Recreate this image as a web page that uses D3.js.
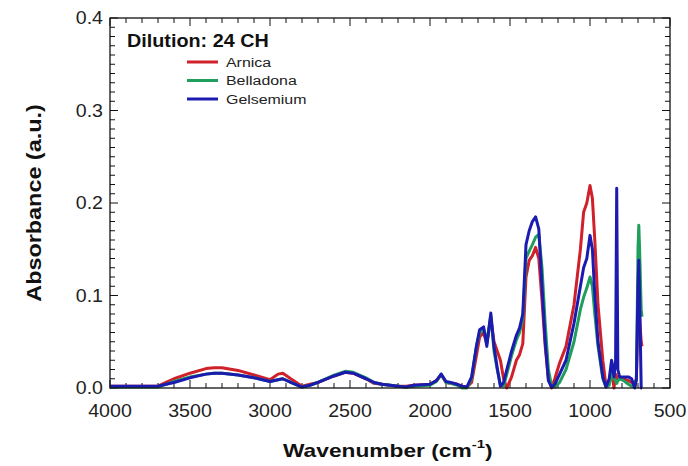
<!DOCTYPE html>
<html>
<head>
<meta charset="utf-8">
<script src="https://cdn.jsdelivr.net/npm/d3@7"></script>
<style>
  body { margin: 0; background: #fff; }
  svg { font-family: "Liberation Sans", Arial, sans-serif; }
</style>
</head>
<body>
<svg id="chart" width="688" height="466"></svg>
<script>
// wavenumber grid (cm-1), shared by the three spectra
const wavenumbers = [4000, 3800, 3700, 3650, 3600, 3500, 3400, 3350, 3300, 3200, 3100, 3000, 2950, 2920, 2870, 2800,
  2750, 2700, 2600, 2530, 2480, 2400, 2350, 2300, 2200, 2150, 2100, 2000, 1960, 1930, 1900, 1870, 1830, 1800,
  1770, 1740, 1710, 1690, 1665, 1645, 1620, 1600, 1580, 1560, 1540, 1520, 1490, 1460, 1440, 1420, 1400, 1380,
  1360, 1340, 1320, 1300, 1280, 1260, 1240, 1220, 1190, 1150, 1100, 1060, 1040, 1020, 1000, 985, 970, 950,
  920, 900, 880, 865, 850, 840, 833, 826, 815, 790, 760, 740, 720, 710, 700, 695, 690, 680, 675];

const arnica = [0.002, 0.002, 0.002, 0.006, 0.010, 0.016, 0.021, 0.022, 0.022, 0.019, 0.014, 0.009, 0.015, 0.016, 0.010, 0.002,
  0.004, 0.006, 0.013, 0.017, 0.016, 0.010, 0.005, 0.004, 0.002, 0.002, 0.003, 0.004, 0.008, 0.014, 0.006, 0.005, 0.004, 0.002,
  0.001, 0.006, 0.035, 0.055, 0.060, 0.048, 0.075, 0.050, 0.040, 0.030, 0.010, 0.000, 0.012, 0.030, 0.036, 0.048, 0.120, 0.138,
  0.143, 0.152, 0.140, 0.095, 0.045, 0.010, 0.000, 0.010, 0.027, 0.045, 0.090, 0.150, 0.190, 0.200, 0.219, 0.205, 0.160, 0.090,
  0.030, 0.002, 0.008, 0.020, 0.000, 0.015, 0.012, 0.008, 0.010, 0.010, 0.008, 0.006, 0.003, 0.010, 0.080, 0.090, 0.075, 0.050, 0.045];

const belladona = [0.001, 0.001, 0.001, 0.004, 0.007, 0.012, 0.015, 0.016, 0.016, 0.014, 0.011, 0.007, 0.009, 0.010, 0.006, 0.001,
  0.003, 0.006, 0.014, 0.018, 0.017, 0.011, 0.006, 0.004, 0.002, 0.001, 0.002, 0.003, 0.007, 0.015, 0.006, 0.005, 0.003, 0.000,
  0.000, 0.010, 0.045, 0.060, 0.064, 0.050, 0.078, 0.040, 0.020, 0.003, 0.002, 0.015, 0.035, 0.052, 0.060, 0.075, 0.140, 0.148,
  0.155, 0.163, 0.166, 0.130, 0.070, 0.020, 0.002, 0.001, 0.006, 0.020, 0.050, 0.085, 0.098, 0.108, 0.120, 0.110, 0.080, 0.045,
  0.010, 0.001, 0.003, 0.015, 0.010, 0.008, 0.005, 0.008, 0.010, 0.008, 0.004, 0.002, 0.001, 0.010, 0.150, 0.176, 0.150, 0.085, 0.077];

const gelsemium = [0.002, 0.002, 0.002, 0.004, 0.006, 0.011, 0.015, 0.016, 0.016, 0.014, 0.011, 0.007, 0.009, 0.010, 0.006, 0.001,
  0.003, 0.006, 0.013, 0.017, 0.016, 0.010, 0.006, 0.004, 0.002, 0.001, 0.003, 0.004, 0.008, 0.015, 0.007, 0.006, 0.004, 0.002,
  0.001, 0.012, 0.045, 0.063, 0.066, 0.045, 0.081, 0.045, 0.022, 0.002, 0.006, 0.020, 0.040, 0.057, 0.065, 0.080, 0.155, 0.170,
  0.180, 0.185, 0.172, 0.110, 0.050, 0.008, 0.001, 0.004, 0.015, 0.030, 0.070, 0.110, 0.130, 0.140, 0.165, 0.150, 0.100, 0.050,
  0.012, 0.001, 0.010, 0.030, 0.012, 0.030, 0.216, 0.020, 0.012, 0.012, 0.012, 0.010, 0.000, 0.010, 0.110, 0.138, 0.100, 0.000, 0.000];

const seriesNames = ["Arnica", "Belladona", "Gelsemium"];
const seriesColors = ["#d0202a", "#1f9e5c", "#1b1bb0"];
const xTicks = [4000, 3500, 3000, 2500, 2000, 1500, 1000, 500];
const yTicks = [0.0, 0.1, 0.2, 0.3, 0.4];

const svg = d3.select("#chart");
const margin = { left: 110, right: 18, top: 18, bottom: 78 };
const W = 688, H = 466;

const x = d3.scaleLinear().domain([4000, 500]).range([margin.left, W - margin.right]);
const y = d3.scaleLinear().domain([0, 0.4]).range([H - margin.bottom, margin.top]);

const x0 = x.range()[0], x1 = x.range()[1], y0 = y.range()[0], y1 = y.range()[1];

const minorX = d3.range(4000, 499, -100);
const minorY = d3.range(0, 0.4001, 0.01);

// the original font runs wide, so text gets stretched along its direction
function wide(sel, tx, ty, sx) {
  return sel.attr("transform", `translate(${tx},${ty}) scale(${sx},1)`);
}

// ticks on all four sides, pointing inward
const ax = svg.append("g").attr("stroke", "#111").attr("stroke-width", 1);
minorX.forEach(v => {
  const len = v % 500 === 0 ? 8 : 5;
  ax.append("line").attr("x1", x(v)).attr("x2", x(v)).attr("y1", y0).attr("y2", y0 - len);
  ax.append("line").attr("x1", x(v)).attr("x2", x(v)).attr("y1", y1).attr("y2", y1 + len);
});
minorY.forEach((v, i) => {
  const len = i % 10 === 0 ? 8 : 5;
  ax.append("line").attr("x1", x0).attr("x2", x0 + len).attr("y1", y(v)).attr("y2", y(v));
  ax.append("line").attr("x1", x1).attr("x2", x1 - len).attr("y1", y(v)).attr("y2", y(v));
});

svg.append("g").selectAll("text").data(xTicks).join("text")
  .each(function(d) { wide(d3.select(this), x(d), y0 + 29, 1.12); })
  .attr("text-anchor", "middle").attr("font-size", 17.5).attr("fill", "#222")
  .text(d => d);

svg.append("g").selectAll("text").data(yTicks).join("text")
  .each(function(d) { wide(d3.select(this), x0 - 7, y(d) + 6, 1.12); })
  .attr("text-anchor", "end").attr("font-size", 17.5).attr("fill", "#222")
  .text(d => d.toFixed(1));

// spectra
const line = d3.line()
  .x((d, i) => x(wavenumbers[i]))
  .y(d => y(d));

[arnica, belladona, gelsemium].forEach((vals, k) => {
  svg.append("path")
    .datum(vals)
    .attr("d", line)
    .attr("fill", "none")
    .attr("stroke", seriesColors[k])
    .attr("stroke-width", 3)
    .attr("stroke-linejoin", "round");
});

// frame
svg.append("rect")
  .attr("x", x0).attr("y", y1).attr("width", x1 - x0).attr("height", y0 - y1)
  .attr("fill", "none").attr("stroke", "#111").attr("stroke-width", 1.3);

// legend
wide(svg.append("text"), 127, 47, 1.07)
  .attr("font-size", 18.5).attr("font-weight", "bold").attr("fill", "#111")
  .text("Dilution: 24 CH");

const leg = svg.append("g");
seriesNames.forEach((name, i) => {
  const ly = 62 + i * 18.5;
  leg.append("line").attr("x1", 187).attr("x2", 218).attr("y1", ly).attr("y2", ly)
    .attr("stroke", seriesColors[i]).attr("stroke-width", 3);
  wide(leg.append("text"), 226, ly + 4.5, 1.18)
    .attr("font-size", 13.5).attr("fill", "#222").text(name);
});

// axis titles
svg.append("text")
  .attr("transform", `translate(41,${(y0 + y1) / 2}) rotate(-90) scale(1.2,1)`)
  .attr("text-anchor", "middle").attr("font-size", 19.5).attr("font-weight", "bold").attr("fill", "#111")
  .text("Absorbance (a.u.)");

const xt = wide(svg.append("text"), 283, 457, 1.3)
  .attr("font-size", 17.5).attr("font-weight", "bold").attr("fill", "#111");
xt.append("tspan").text("Wavenumber (cm");
xt.append("tspan").attr("font-size", 11.5).attr("dy", -9).text("-1");
xt.append("tspan").attr("dy", 9).text(")");
</script>
</body>
</html>
